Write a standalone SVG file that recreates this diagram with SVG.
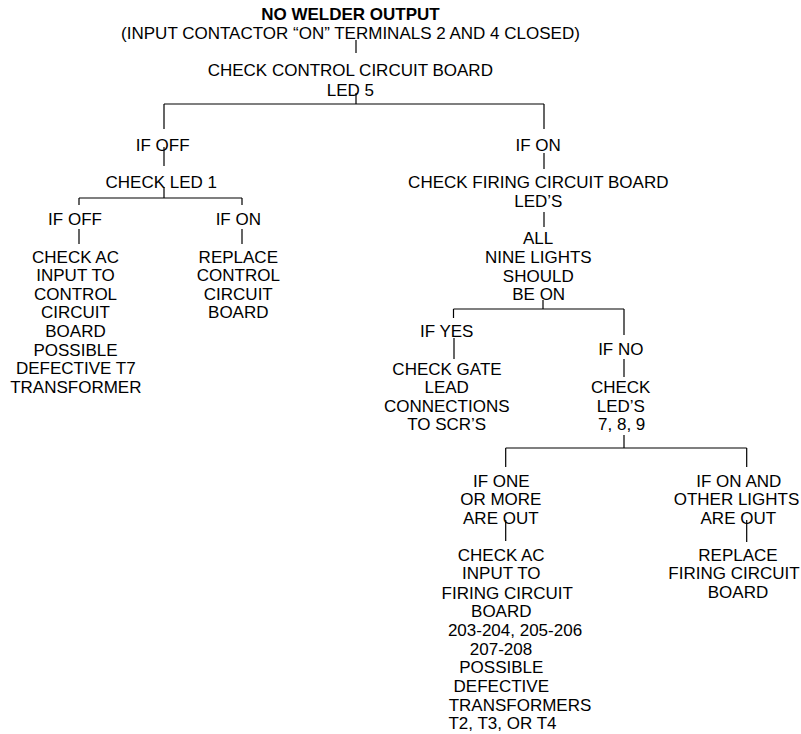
<svg xmlns="http://www.w3.org/2000/svg" width="801" height="734" viewBox="0 0 801 734">
<style>
text{font-family:"Liberation Sans",Arial,Helvetica,sans-serif;font-size:17px;fill:#000;text-anchor:middle}
.b{font-weight:bold}
.c{stroke:#000;stroke-width:1.2;fill:none}
</style>
<rect width="801" height="734" fill="#fff"/>
<g id="connectors" class="c">
<path d="M356 40V53"/>
<path d="M356 93V104M164 104H544M164 104V129M544 104V129"/>
<path d="M164 147V166"/>
<path d="M544 153V169"/>
<path d="M164 187V198M79 198H242M79 198V205M242 198V205"/>
<path d="M79 229V244M242 229V244"/>
<path d="M544 212V227"/>
<path d="M543 300V309M453.5 309H624M453.5 309V318M624 309V335"/>
<path d="M454 338V359"/>
<path d="M624 359V377"/>
<path d="M624 435V448M505.7 448H746.7M505.7 448V467M746.7 448V467"/>
<path d="M505.7 520V541M746.7 520V542"/>
</g>
<g id="title">
<text class="b" x="350.5" y="20">NO WELDER OUTPUT</text>
<text x="350.5" y="39">(INPUT CONTACTOR “ON” TERMINALS 2 AND 4 CLOSED)</text>
</g>
<g id="check-led5">
<text x="350.3" y="76">CHECK CONTROL CIRCUIT BOARD</text>
<text x="350.3" y="95.5">LED 5</text>
</g>
<g id="if-off-1"><text x="162.7" y="150.7">IF OFF</text></g>
<g id="if-on-1"><text x="538.2" y="150.7">IF ON</text></g>
<g id="check-led1"><text x="161.3" y="188.3">CHECK LED 1</text></g>
<g id="if-off-2"><text x="75" y="225">IF OFF</text></g>
<g id="if-on-2"><text x="238.3" y="225">IF ON</text></g>
<g id="check-ac-control">
<text x="75.5" y="262.7">CHECK AC</text>
<text x="75.5" y="281.2">INPUT TO</text>
<text x="75.5" y="299.7">CONTROL</text>
<text x="75.5" y="318.3">CIRCUIT</text>
<text x="75.5" y="336.9">BOARD</text>
<text x="75.5" y="355.6">POSSIBLE</text>
<text x="75.8" y="374.2">DEFECTIVE T7</text>
<text x="75.8" y="392.7">TRANSFORMER</text>
</g>
<g id="replace-control">
<text x="238.3" y="262.7">REPLACE</text>
<text x="238.3" y="281.2">CONTROL</text>
<text x="238.3" y="299.7">CIRCUIT</text>
<text x="238.3" y="318.3">BOARD</text>
</g>
<g id="check-firing">
<text x="538.3" y="188.3">CHECK FIRING CIRCUIT BOARD</text>
<text x="538.3" y="206.7">LED’S</text>
</g>
<g id="all-nine">
<text x="538" y="244.3">ALL</text>
<text x="538.3" y="262.7">NINE LIGHTS</text>
<text x="538.3" y="281.5">SHOULD</text>
<text x="538.7" y="300">BE ON</text>
</g>
<g id="if-yes"><text x="446.7" y="336.7">IF YES</text></g>
<g id="if-no"><text x="620.8" y="355">IF NO</text></g>
<g id="check-gate">
<text x="447" y="375">CHECK GATE</text>
<text x="446.7" y="393.3">LEAD</text>
<text x="446.7" y="411.7">CONNECTIONS</text>
<text x="446.7" y="430">TO SCR’S</text>
</g>
<g id="check-led789">
<text x="620.7" y="393.3">CHECK</text>
<text x="620.8" y="411.7">LED’S</text>
<text x="621.7" y="430">7, 8, 9</text>
</g>
<g id="if-one-out">
<text x="501.3" y="486.7">IF ONE</text>
<text x="500.8" y="505">OR MORE</text>
<text x="500.8" y="523.6">ARE OUT</text>
</g>
<g id="if-on-others-out">
<text x="738.8" y="486.7">IF ON AND</text>
<text x="736.5" y="505">OTHER LIGHTS</text>
<text x="738.3" y="523.6">ARE OUT</text>
</g>
<g id="check-ac-firing">
<text x="501.2" y="560.7">CHECK AC</text>
<text x="501.3" y="579.3">INPUT TO</text>
<text x="507.2" y="598.5">FIRING CIRCUIT</text>
<text x="501.3" y="617.3">BOARD</text>
<text x="515" y="636">203-204, 205-206</text>
<text x="501" y="654.8">207-208</text>
<text x="501.3" y="673.3">POSSIBLE</text>
<text x="501.3" y="692">DEFECTIVE</text>
<text x="520" y="710.7">TRANSFORMERS</text>
<text x="502.5" y="729.3">T2, T3, OR T4</text>
</g>
<g id="replace-firing">
<text x="738" y="560.7">REPLACE</text>
<text x="734" y="579.3">FIRING CIRCUIT</text>
<text x="738" y="598">BOARD</text>
</g>
</svg>
